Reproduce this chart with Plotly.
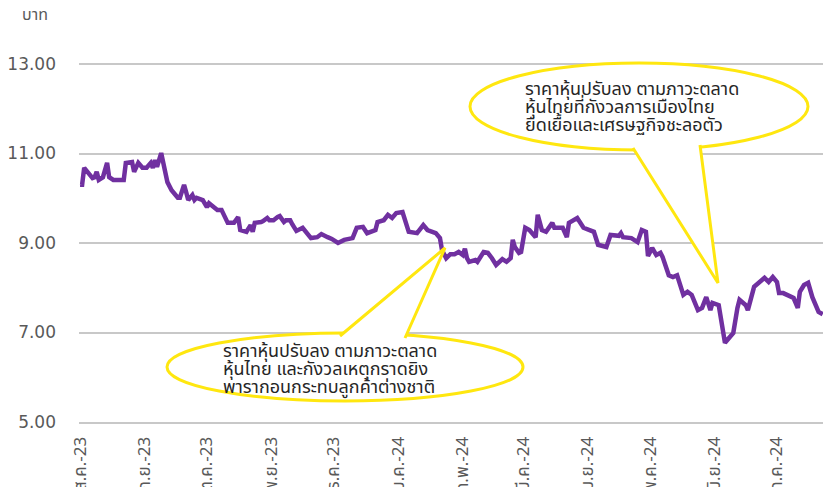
import plotly.graph_objects as go

dates = [
    "2023-08-01","2023-08-02","2023-08-03","2023-08-05","2023-08-07","2023-08-08","2023-08-09","2023-08-10","2023-08-11","2023-08-12","2023-08-14","2023-08-15","2023-08-17","2023-08-22","2023-08-23","2023-08-26","2023-08-27","2023-08-29","2023-08-31",
    "2023-09-02","2023-09-04","2023-09-05","2023-09-06","2023-09-07","2023-09-09","2023-09-11","2023-09-12","2023-09-14","2023-09-17","2023-09-18","2023-09-20","2023-09-21","2023-09-22","2023-09-24","2023-09-25","2023-09-26","2023-09-29",
    "2023-10-01","2023-10-02","2023-10-06","2023-10-08","2023-10-11","2023-10-14","2023-10-16","2023-10-17","2023-10-20","2023-10-22","2023-10-23","2023-10-24","2023-10-27","2023-10-28","2023-10-30","2023-10-31",
    "2023-11-02","2023-11-03","2023-11-04","2023-11-05","2023-11-07","2023-11-08","2023-11-10","2023-11-11","2023-11-13","2023-11-16","2023-11-17","2023-11-20","2023-11-23","2023-11-25","2023-11-28","2023-11-30",
    "2023-12-03","2023-12-06","2023-12-10","2023-12-12","2023-12-15","2023-12-17","2023-12-21","2023-12-22","2023-12-25","2023-12-27","2023-12-29","2023-12-31",
    "2024-01-03","2024-01-06","2024-01-10","2024-01-13","2024-01-15","2024-01-19","2024-01-21","2024-01-22","2024-01-24","2024-01-26","2024-01-28","2024-01-30",
    "2024-02-01","2024-02-02","2024-02-03","2024-02-04","2024-02-07","2024-02-08","2024-02-11","2024-02-13","2024-02-15","2024-02-17","2024-02-20","2024-02-22","2024-02-24","2024-02-25","2024-02-26","2024-02-28","2024-02-29",
    "2024-03-02","2024-03-04","2024-03-07","2024-03-08","2024-03-10","2024-03-12","2024-03-15","2024-03-16","2024-03-20","2024-03-22","2024-03-23","2024-03-27","2024-03-28","2024-03-30",
    "2024-04-04","2024-04-06","2024-04-10","2024-04-12","2024-04-16","2024-04-17","2024-04-18","2024-04-22","2024-04-25","2024-04-27","2024-04-29","2024-04-30",
    "2024-05-02","2024-05-04","2024-05-06","2024-05-07","2024-05-10","2024-05-12","2024-05-14","2024-05-17","2024-05-19","2024-05-21","2024-05-24","2024-05-26","2024-05-28","2024-05-30","2024-05-31",
    "2024-06-03","2024-06-06","2024-06-08","2024-06-10","2024-06-12","2024-06-13","2024-06-16","2024-06-17","2024-06-20","2024-06-23","2024-06-25","2024-06-27","2024-06-29",
    "2024-07-01","2024-07-02","2024-07-04","2024-07-06","2024-07-09","2024-07-11","2024-07-12","2024-07-14","2024-07-16","2024-07-18","2024-07-21","2024-07-23",
]

price = [
    10.30,10.30,10.68,10.56,10.45,10.47,10.59,10.41,10.45,10.47,10.79,10.47,10.41,10.41,10.79,10.81,10.59,10.79,10.68,
    10.68,10.79,10.68,10.85,10.70,11.01,10.63,10.36,10.18,10.01,10.01,10.30,10.14,9.96,10.07,9.96,10.01,9.96,
    9.80,9.89,9.74,9.74,9.45,9.45,9.58,9.29,9.25,9.40,9.25,9.45,9.47,9.49,9.56,9.51,
    9.51,9.56,9.58,9.60,9.47,9.51,9.51,9.42,9.27,9.34,9.29,9.11,9.13,9.20,9.13,9.09,
    9.00,9.07,9.11,9.34,9.36,9.22,9.29,9.47,9.51,9.63,9.56,9.67,
    9.69,9.25,9.22,9.40,9.29,9.22,9.11,8.84,8.66,8.75,8.75,8.80,
    8.73,8.87,8.66,8.58,8.62,8.58,8.80,8.78,8.66,8.51,8.64,8.58,8.66,9.07,8.91,8.78,8.80,
    9.34,9.29,9.13,9.63,9.29,9.25,9.45,9.34,9.34,9.13,9.45,9.56,9.47,9.34,
    9.25,8.96,8.91,9.18,9.16,9.22,9.13,9.11,9.02,9.29,9.25,8.71,
    8.89,8.73,8.78,8.69,8.28,8.24,8.28,7.84,7.91,7.84,7.50,7.55,7.79,7.50,7.66,
    7.61,6.77,6.90,6.99,7.55,7.73,7.61,7.50,8.02,8.13,8.22,8.13,8.24,
    8.13,7.88,7.88,7.84,7.77,7.55,7.91,8.06,8.11,7.79,7.46,7.41,
]

tick_dates = ["2023-08-01","2023-09-01","2023-10-01","2023-11-01","2023-12-01","2024-01-01",
              "2024-02-01","2024-03-01","2024-04-01","2024-05-01","2024-06-01","2024-07-01"]
tick_labels = ["ส.ค.-23","ก.ย.-23","ต.ค.-23","พ.ย.-23","ธ.ค.-23","ม.ค.-24",
               "ก.พ.-24","มี.ค.-24","เม.ย.-24","พ.ค.-24","มิ.ย.-24","ก.ค.-24"]
y_ticks = [5, 7, 9, 11, 13]

unit_label = "บาท"
note_top = ["ราคาหุ้นปรับลง ตามภาวะตลาด", "หุ้นไทยที่กังวลการเมืองไทย", "ยืดเยื้อและเศรษฐกิจชะลอตัว"]
note_bottom = ["ราคาหุ้นปรับลง ตามภาวะตลาด", "หุ้นไทย และกังวลเหตุกราดยิง", "พารากอนกระทบลูกค้าต่างชาติ"]

W, H = 823, 487
L, B = 79, 65
PW, PH = W - L, H - B  # plot area in px


def px(x):
    return (x - L) / PW


def py(y):
    return (PH - y) / PH


YELLOW = "#FFE70F"
FONT = "Noto Sans Thai, Noto Sans, DejaVu Sans, sans-serif"

fig = go.Figure()
fig.add_trace(go.Scatter(
    x=dates, y=price, mode="lines",
    line=dict(color="#7030A0", width=4.5),
    hoverinfo="skip", showlegend=False,
))


def callout(ex0, ey0, ex1, ey1, base1, tip, base2):
    fig.add_shape(type="circle", xref="paper", yref="paper",
                  x0=px(ex0), x1=px(ex1), y0=py(ey1), y1=py(ey0),
                  line=dict(color=YELLOW, width=3), fillcolor="white", layer="above")
    path = "M {} {} L {} {} L {} {}".format(px(base1[0]), py(base1[1]), px(tip[0]), py(tip[1]),
                                            px(base2[0]), py(base2[1]))
    fig.add_shape(type="path", xref="paper", yref="paper", path=path,
                  line=dict(color=YELLOW, width=3), fillcolor="white", layer="above")


callout(470, 63, 808, 150, (633, 148), (718, 283), (700, 145))
callout(167, 333, 523, 401, (340, 336), (445, 248), (405, 338))


def note(lines, x0, ys):
    for text, yc in zip(lines, ys):
        fig.add_annotation(xref="paper", yref="paper", x=px(x0), y=py(yc),
                           xanchor="left", yanchor="middle", text=text, showarrow=False,
                           font=dict(family=FONT, size=18, color="#262626"))


note(note_top, 523, [90, 108, 126])
note(note_bottom, 221, [351, 369, 387])

fig.add_annotation(xref="paper", yref="paper", x=px(35), y=py(15), xanchor="center", yanchor="middle",
                   text=unit_label, showarrow=False,
                   font=dict(family=FONT, size=16, color="#595959"))

fig.update_layout(
    width=W, height=H,
    margin=dict(l=L, r=0, t=0, b=B, autoexpand=False),
    paper_bgcolor="white", plot_bgcolor="white",
    showlegend=False,
    xaxis=dict(
        type="date",
        range=["2023-07-31 12:00", "2024-07-23 03:00"],
        tickvals=tick_dates, ticktext=tick_labels,
        tickangle=-90, showgrid=False, zeroline=False,
        showline=True, linecolor="#C8C8C8", linewidth=2,
        ticks="", ticklabelstandoff=6,
        tickfont=dict(family=FONT, size=17, color="#595959"),
        automargin=False,
    ),
    yaxis=dict(
        range=[5, 5 + PH / 44.75],
        tickvals=y_ticks, tickformat=".2f",
        showgrid=True, gridcolor="#C8C8C8", gridwidth=2,
        zeroline=False, showline=False, ticks="",
        ticklabelstandoff=22,
        tickfont=dict(family="DejaVu Sans", size=17, color="#595959"),
        automargin=False,
    ),
)

fig.write_html(
    "out.html",
    config={"displayModeBar": False},
    post_script="document.body.style.margin='0';document.body.style.overflow='hidden';"
                "document.documentElement.style.overflow='hidden';",
)
